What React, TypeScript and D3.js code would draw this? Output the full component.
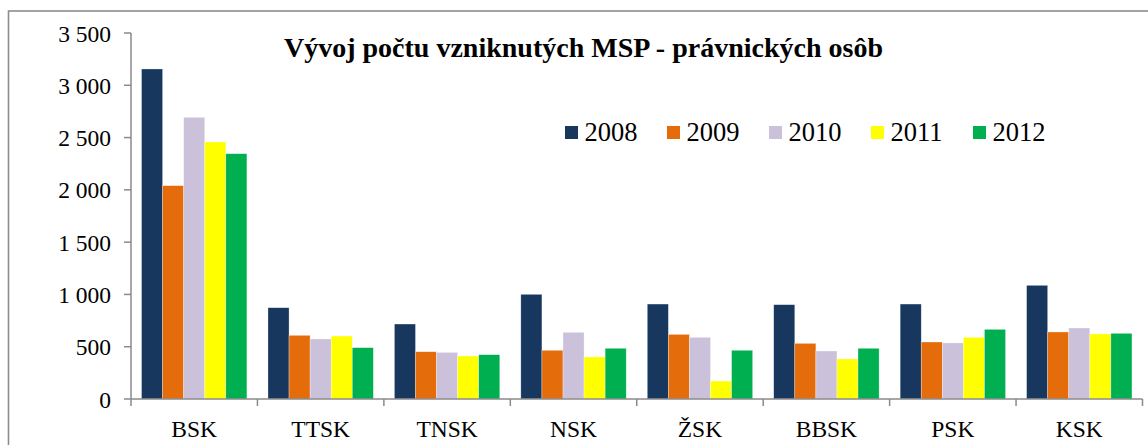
import React from "react";
import * as d3 from "d3";

const categories = ["BSK", "TTSK", "TNSK", "NSK", "ŽSK", "BBSK", "PSK", "KSK"];
const years = ["2008", "2009", "2010", "2011", "2012"];
const colors = ["#17375E", "#E46C0A", "#CCC1DA", "#FFFF00", "#00B050"];
const v2008 = [3156, 873, 717, 1001, 908, 902, 908, 1087];
const v2009 = [2040, 609, 452, 466, 618, 532, 545, 641];
const v2010 = [2694, 574, 446, 638, 590, 459, 536, 679];
const v2011 = [2458, 602, 411, 402, 172, 383, 590, 622];
const v2012 = [2346, 491, 424, 485, 466, 485, 666, 628];
const seriesValues = [v2008, v2009, v2010, v2011, v2012];
const yTicks = [0, 500, 1000, 1500, 2000, 2500, 3000, 3500];
const title = "Vývoj počtu vzniknutých MSP - právnických osôb";

const W = 1148;
const H = 445;
const left = 131;
const right = 1142.5;
const top = 33;
const bottom = 399;
const font = "'Liberation Serif', 'Times New Roman', serif";
const axisColor = "#8a8a8a";

export default function App() {
  const x = d3.scaleBand<string>().domain(categories).range([left, right]).paddingInner(0).paddingOuter(0);
  const inner = d3
    .scaleBand<string>()
    .domain(years)
    .range([x.bandwidth() / 12, x.bandwidth() - x.bandwidth() / 12])
    .padding(0);
  const y = d3.scaleLinear().domain([0, 3500]).range([bottom, top]);
  const fmt = d3.formatLocale({ decimal: ",", thousands: " ", grouping: [3], currency: ["", ""] }).format(",d");

  const boundaries = categories.map((c) => x(c) as number).concat([right]);

  return (
    <div style={{ position: "absolute", left: 0, top: 0 }}>
      <svg width={W} height={H} style={{ display: "block", background: "#fff" }}>
        <rect x={8.5} y={11} width={1160} height={460} fill="#fff" stroke="#8c8c8c" strokeWidth={1.6} />
        {seriesValues.map((vals, si) =>
          categories.map((c, ci) => (
            <rect
              key={`${si}-${ci}`}
              x={(x(c) as number) + (inner(years[si]) as number)}
              y={y(vals[ci])}
              width={inner.bandwidth()}
              height={bottom - y(vals[ci])}
              fill={colors[si]}
              stroke="#ffffff"
              strokeOpacity={0.5}
              strokeWidth={0.6}
            />
          ))
        )}
        <line x1={left} x2={left} y1={top} y2={bottom} stroke={axisColor} strokeWidth={1.5} />
        {yTicks.map((t) => (
          <g key={t}>
            <line x1={left - 7} x2={left} y1={y(t)} y2={y(t)} stroke={axisColor} strokeWidth={1.5} />
            <text x={111} y={y(t) + 8.5} textAnchor="end" fontFamily={font} fontSize={23.5} fill="#000">
              {fmt(t)}
            </text>
          </g>
        ))}
        <line x1={left} x2={right} y1={bottom} y2={bottom} stroke={axisColor} strokeWidth={1.5} />
        {boundaries.map((bx, i) => (
          <line key={i} x1={bx} x2={bx} y1={bottom} y2={bottom + 7} stroke={axisColor} strokeWidth={1.5} />
        ))}
        {categories.map((c) => (
          <text
            key={c}
            x={(x(c) as number) + x.bandwidth() / 2}
            y={437}
            textAnchor="middle"
            fontFamily={font}
            fontSize={23.5}
            fill="#000"
          >
            {c}
          </text>
        ))}
        <text x={284} y={57} fontFamily={font} fontSize={28} fontWeight="bold" fill="#000">
          {title}
        </text>
        {years.map((yr, i) => (
          <g key={yr} transform={`translate(${565 + i * 102},126)`}>
            <rect x={0} y={0} width={13} height={13} fill={colors[i]} />
            <text x={19.5} y={14.5} fontFamily={font} fontSize={26.5} fill="#000">
              {yr}
            </text>
          </g>
        ))}
      </svg>
    </div>
  );
}
